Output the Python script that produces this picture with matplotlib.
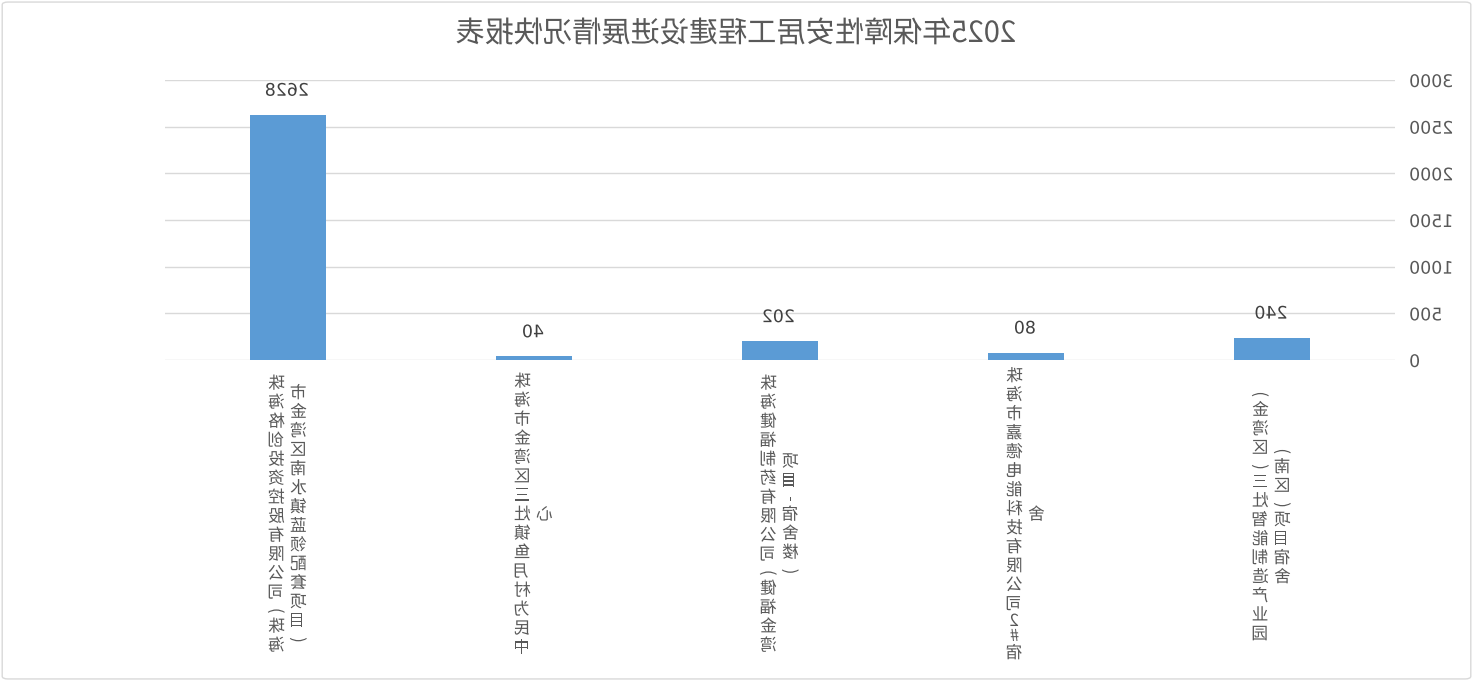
import matplotlib
matplotlib.use('Agg')
import matplotlib.pyplot as plt
from matplotlib.patches import FancyBboxPatch
from matplotlib.patheffects import AbstractPathEffect
from matplotlib.transforms import Affine2D
from matplotlib.text import Text

# 原表顺序（图是水平镜像的，所以下面把x轴反过来）
projects = ['（金湾区）三灶智能制造产业园（南区）项目宿舍',
            '珠海市嘉德电能科技有限公司2#宿舍',
            '珠海健福制药有限公司（健福金湾项目-宿舍楼）',
            '珠海市金湾区三灶镇鱼月村为民中心',
            '珠海格创投资控股有限公司（珠海市金湾区南水镇蓝领配套项目）']
units = [240, 80, 202, 40, 2628]
wrap_at = [14, 16, 15, 15, 15]   # 竖排标签换列的位置
yticks = [0, 500, 1000, 1500, 2000, 2500, 3000]
title = '2025年保障性安居工程建设进展情况快报表'

cjk = ['Noto Sans CJK SC', 'DejaVu Sans']
grey = '#595959'
# 竖排时要横过来的字符
turned = {'（': '(', '）': ')', '-': '-'}


class Mirror(AbstractPathEffect):
    # 把每段文字按自身中心左右翻转
    def draw_path(self, renderer, gc, tpath, affine, rgbFace=None):
        x = tpath.vertices[:, 0]
        if len(x):
            flip = Affine2D().scale(-1, 1).translate(x.min() + x.max(), 0)
            affine = flip + affine
        renderer.draw_path(gc, tpath, affine, rgbFace)


def px(v):
    return v * 72.0 / 100


fig = plt.figure(figsize=(14.73, 6.81), dpi=100)
ax = fig.add_axes([165 / 1473, 1 - 360 / 681, 1230 / 1473, 280 / 681])

x = range(len(units))
ax.bar(x, units, width=0.313, color='#5b9bd5', zorder=2)
ax.set_xlim(-0.5, len(units) - 0.5)
ax.invert_xaxis()
ax.set_ylim(0, 3000)
ax.set_yticks(yticks)
ax.set_xticks([])
ax.yaxis.tick_right()
ax.tick_params(axis='y', length=0, pad=11, labelsize=12.5, labelcolor=grey)
ax.grid(axis='y', color='#d9d9d9', lw=1, zorder=0)
for s in ax.spines.values():
    s.set_visible(False)

# 数据标签
for i, v in enumerate(units):
    ax.annotate(str(v), (i, v), xytext=(0, px(24)), textcoords='offset points',
                ha='center', va='center', fontsize=12.5, color='#404040')

# 竖排的类别标签
for i, name in enumerate(projects):
    cols = [name[:wrap_at[i]], name[wrap_at[i]:]]
    for j, col in enumerate(cols):
        hs = [19 if ('\u4e00' <= c <= '\u9fff') else 15 for c in col]
        total = sum(hs)
        y = -155 + total / 2.0
        for c, h in zip(col, hs):
            y -= h / 2.0
            ax.annotate(turned.get(c, c), (i, 0), xycoords=('data', 'axes fraction'),
                        xytext=(px(-11 + 22 * j), px(y)), textcoords='offset points',
                        ha='center', va='center', fontsize=12, color=grey,
                        family=cjk, rotation=90 if c in turned else 0)
            y -= h / 2.0

fig.text(0.5, 1 - 34 / 681, title, ha='center', va='center', fontsize=21,
         color=grey, family=cjk)

fig.patches.append(FancyBboxPatch((0.0015, 0.003), 0.997, 0.994,
                                  boxstyle='round,pad=0,rounding_size=0.004',
                                  transform=fig.transFigure, fill=False,
                                  ec='#d9d9d9', lw=1))

for t in fig.findobj(Text):
    t.set_path_effects([Mirror()])

fig.savefig('out.png', dpi=100)
